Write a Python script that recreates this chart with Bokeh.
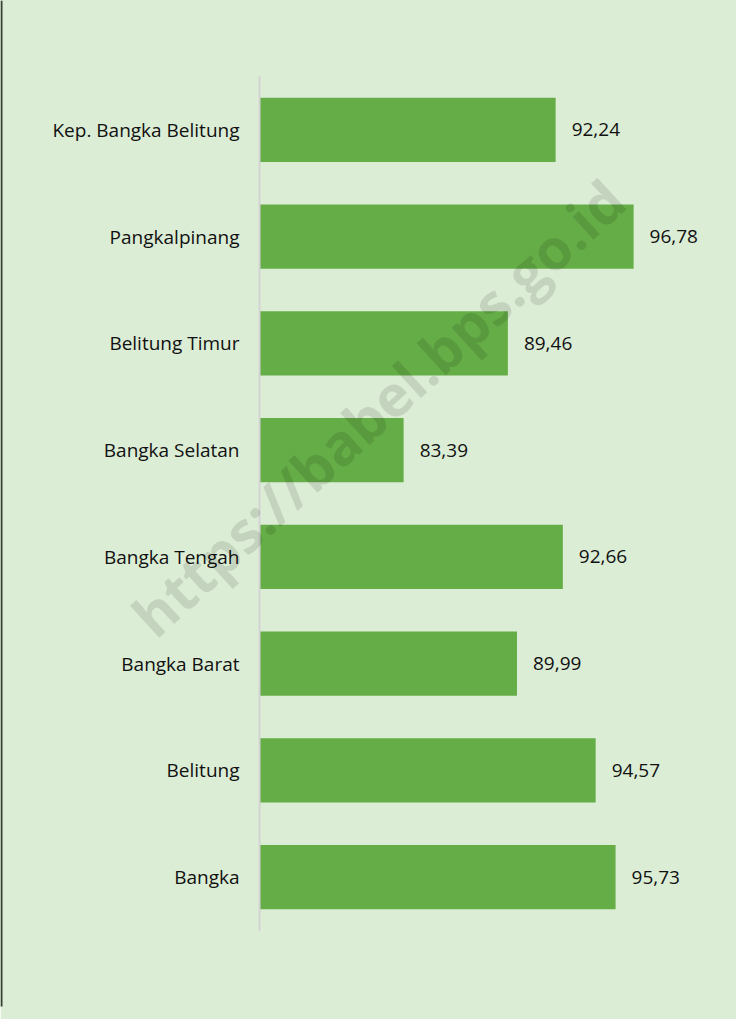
from bokeh.plotting import figure
from bokeh.models import Range1d, FactorRange, ColumnDataSource, Label, BoxAnnotation
from bokeh.core.properties import value
from bokeh.embed import file_html
from bokeh.resources import INLINE
import math

regions = ["Kep. Bangka Belitung", "Pangkalpinang", "Belitung Timur", "Bangka Selatan",
           "Bangka Tengah", "Bangka Barat", "Belitung", "Bangka"]
values = [92.24, 96.78, 89.46, 83.39, 92.66, 89.99, 94.57, 95.73]
labels = [f"{v:.2f}".replace(".", ",") for v in values]
x_min = 75

BG = "#dcedd6"
BAR = "#65ae47"
FONT = "Open Sans"

src = ColumnDataSource(dict(region=regions, val=values, lab=labels,
                            base=[x_min] * len(regions)))

p = figure(width=736, height=1019, output_backend="svg", toolbar_location=None,
           y_range=FactorRange(factors=list(reversed(regions)),
                               range_padding=0.178, range_padding_units="percent"),
           x_range=Range1d(59.92, 102.77),
           min_border=0, min_border_bottom=13)
p.background_fill_color = BG
p.border_fill_color = BG
p.outline_line_color = BG
p.outline_line_width = 2
p.xgrid.visible = False
p.ygrid.visible = False
p.xaxis.visible = False
p.yaxis.visible = False

# left border of the panel
p.add_layout(BoxAnnotation(left=0, right=2, top=0, bottom=1019,
                           left_units="canvas", right_units="canvas",
                           top_units="canvas", bottom_units="canvas",
                           fill_color="#3a3f33", fill_alpha=1.0, line_color=None,
                           level="overlay"))

p.hbar(y="region", left="base", right="val", height=0.6, source=src,
       fill_color=BAR, line_color=None)

# category axis line
p.segment(x0=[x_min], x1=[x_min], y0=[(regions[-1], -0.5)], y1=[(regions[0], 0.5)],
          line_color="#d3d3d3", line_width=2)

# category labels
p.text(x="base", y="region", text="region", source=src, x_offset=-20,
       text_align="right", text_baseline="middle", text_font=value(FONT),
       text_font_size="19px", text_color="#111111")

# value labels
p.text(x="val", y="region", text="lab", source=src, x_offset=16,
       text_align="left", text_baseline="middle", text_font=value(FONT),
       text_font_size="19px", text_color="#111111")

# watermark
p.add_layout(Label(x=81.9, y=4.9, text="https://babel.bps.go.id", angle=math.radians(42.5),
                   text_align="center", text_baseline="middle", text_font=FONT,
                   text_font_style="bold", text_font_size="57px",
                   text_color="#000000", text_alpha=0.11))

open("out.html", "w").write(file_html(p, INLINE))
